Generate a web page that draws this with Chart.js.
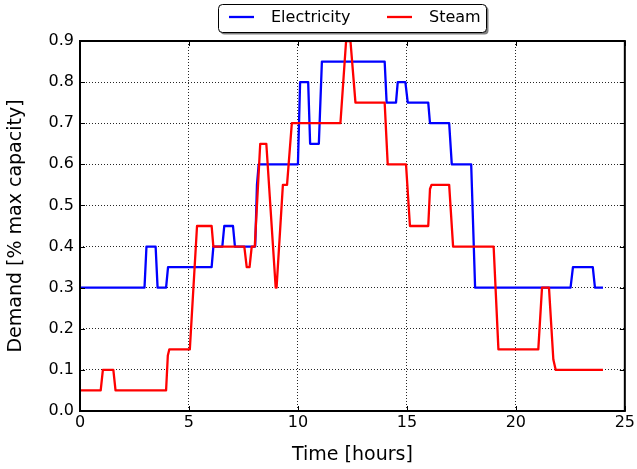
<!DOCTYPE html>
<html>
<head>
<meta charset="utf-8">
<script src="https://cdn.jsdelivr.net/npm/chart.js@4"></script>
<style>
  body { margin: 0; background: #fff; }
  canvas { display: block; }
</style>
</head>
<body>
<canvas id="demandChart" width="637" height="469"></canvas>
<script>
// Hourly demand profiles (breakpoints of the step curves)
var elecHours = [0, 2.96, 3.05, 3.47, 3.56, 3.95, 4.04, 6.04, 6.12, 6.53, 6.62, 7.02, 7.11,
    8.04, 8.12, 8.2, 10.0, 10.1, 10.47, 10.56, 10.96, 11.1, 13.98, 14.07, 14.5, 14.58,
    14.93, 15.04, 15.98, 16.06, 16.94, 17.06, 17.95, 18.13, 22.51, 22.62, 23.53, 23.63, 24];
var elecDemand = [0.3, 0.3, 0.4, 0.4, 0.3, 0.3, 0.35, 0.35, 0.4, 0.4, 0.45, 0.45, 0.4,
    0.4, 0.55, 0.6, 0.6, 0.8, 0.8, 0.65, 0.65, 0.85, 0.85, 0.75, 0.75, 0.8,
    0.8, 0.75, 0.75, 0.7, 0.7, 0.6, 0.6, 0.3, 0.3, 0.35, 0.35, 0.3, 0.3];

var steamHours = [0, 0.95, 1.05, 1.53, 1.63, 3.95, 4.03, 4.1, 5.04, 5.37, 6.04, 6.12,
    7.54, 7.65, 7.78, 7.88, 8.02, 8.27, 8.55, 8.98, 9.02, 9.31, 9.5, 9.72, 11.95,
    12.21, 12.41, 12.64, 13.98, 14.12, 14.96, 15.14, 15.98, 16.06, 16.13, 16.94, 17.12,
    18.98, 19.2, 21.03, 21.2, 21.52, 21.72, 21.83, 24];
var steamDemand = [0.05, 0.05, 0.1, 0.1, 0.05, 0.05, 0.135, 0.15, 0.15, 0.45, 0.45, 0.4,
    0.4, 0.35, 0.35, 0.4, 0.4, 0.65, 0.65, 0.3, 0.3, 0.55, 0.55, 0.7, 0.7,
    0.9, 0.9, 0.75, 0.75, 0.6, 0.6, 0.45, 0.45, 0.54, 0.55, 0.55, 0.4,
    0.4, 0.15, 0.15, 0.3, 0.3, 0.125, 0.1, 0.1];

var xTicks = [0, 5, 10, 15, 20, 25];
var yTicks = [0, 0.1, 0.2, 0.3, 0.4, 0.5, 0.6, 0.7, 0.8, 0.9];

var FONT = "'DejaVu Sans', 'Liberation Sans', sans-serif";

function toPoints(xs, ys) {
    return xs.map(function (x, i) { return { x: x, y: ys[i] }; });
}

// axes frame with inward tick marks on all four sides
var framePlugin = {
    id: 'frame',
    afterDraw: function (chart) {
        var ctx = chart.ctx, a = chart.chartArea;
        var xs = chart.scales.x, ys = chart.scales.y;
        ctx.save();
        ctx.strokeStyle = '#000';
        ctx.lineWidth = 1;
        xTicks.forEach(function (v) {
            var px = Math.round(xs.getPixelForValue(v)) + 0.5;
            ctx.beginPath();
            ctx.moveTo(px, a.bottom); ctx.lineTo(px, a.bottom - 5);
            ctx.moveTo(px, a.top); ctx.lineTo(px, a.top + 5);
            ctx.stroke();
        });
        yTicks.forEach(function (v) {
            var py = Math.round(ys.getPixelForValue(v)) + 0.5;
            ctx.beginPath();
            ctx.moveTo(a.left, py); ctx.lineTo(a.left + 5, py);
            ctx.moveTo(a.right, py); ctx.lineTo(a.right - 5, py);
            ctx.stroke();
        });
        ctx.lineWidth = 2;
        ctx.strokeRect(a.left, a.top, a.right - a.left, a.bottom - a.top);
        ctx.restore();
    }
};

// boxed legend above the axes, with a drop shadow
var legendBoxPlugin = {
    id: 'legendBox',
    afterDraw: function (chart) {
        var ctx = chart.ctx;
        var x = 218.5, y = 4.5, w = 268, h = 28, r = 4;
        ctx.save();
        ctx.fillStyle = 'rgba(0,0,0,0.5)';
        ctx.beginPath();
        ctx.roundRect(x + 2, y + 2, w, h, r);
        ctx.fill();
        ctx.fillStyle = '#fff';
        ctx.strokeStyle = '#000';
        ctx.lineWidth = 1;
        ctx.beginPath();
        ctx.roundRect(x, y, w, h, r);
        ctx.fill();
        ctx.stroke();

        ctx.font = '16px ' + FONT;
        ctx.textBaseline = 'middle';
        ctx.textAlign = 'left';
        var slots = [229, 387];
        chart.data.datasets.forEach(function (ds, i) {
            var sx = slots[i];
            ctx.strokeStyle = ds.borderColor;
            ctx.lineWidth = 2.3;
            ctx.beginPath();
            ctx.moveTo(sx, 17); ctx.lineTo(sx + 25, 17);
            ctx.stroke();
            ctx.fillStyle = '#000';
            ctx.fillText(ds.label, sx + 42, 18);
        });
        ctx.restore();
    }
};

new Chart(document.querySelector('#demandChart'), {
    type: 'line',
    data: {
        datasets: [{
            label: 'Electricity',
            data: toPoints(elecHours, elecDemand),
            borderColor: '#0000ff',
            borderWidth: 2.3,
            pointRadius: 0,
            tension: 0,
            fill: false,
            borderJoinStyle: 'round',
            order: 1
        }, {
            // steam is painted over electricity where they coincide
            label: 'Steam',
            data: toPoints(steamHours, steamDemand),
            borderColor: '#ff0000',
            borderWidth: 2.3,
            pointRadius: 0,
            tension: 0,
            fill: false,
            borderJoinStyle: 'round',
            order: 0
        }]
    },
    options: {
        responsive: false,
        animation: false,
        layout: { padding: { left: 0, top: 41, right: 12, bottom: 0 } },
        plugins: {
            legend: { display: false },
            tooltip: { enabled: false }
        },
        scales: {
            x: {
                type: 'linear',
                min: 0,
                max: 25,
                afterFit: function (scale) { scale.height = 58; },
                afterBuildTicks: function (scale) {
                    scale.ticks = xTicks.map(function (v) { return { value: v }; });
                },
                ticks: {
                    padding: 2,
                    color: '#000',
                    font: { family: FONT, size: 16 },
                    maxRotation: 0
                },
                grid: {
                    color: 'rgba(0,0,0,0.85)',
                    lineWidth: 1,
                    drawTicks: false
                },
                border: { display: false, dash: [1, 2] },
                title: {
                    display: true,
                    text: 'Time [hours]',
                    color: '#000',
                    font: { family: FONT, size: 19 },
                    padding: { top: 0, bottom: 3 }
                }
            },
            y: {
                min: 0,
                max: 0.9,
                afterFit: function (scale) { scale.width = 80; },
                afterBuildTicks: function (scale) {
                    scale.ticks = yTicks.map(function (v) { return { value: v }; });
                },
                ticks: {
                    padding: 6,
                    color: '#000',
                    font: { family: FONT, size: 16 },
                    callback: function (v) { return Number(v).toFixed(1); }
                },
                grid: {
                    color: 'rgba(0,0,0,0.85)',
                    lineWidth: 1,
                    drawTicks: false
                },
                border: { display: false, dash: [1, 2] },
                title: {
                    display: true,
                    text: 'Demand [% max capacity]',
                    color: '#000',
                    font: { family: FONT, size: 19 },
                    padding: { top: 5, bottom: 0 }
                }
            }
        }
    },
    plugins: [framePlugin, legendBoxPlugin]
});
</script>
</body>
</html>
